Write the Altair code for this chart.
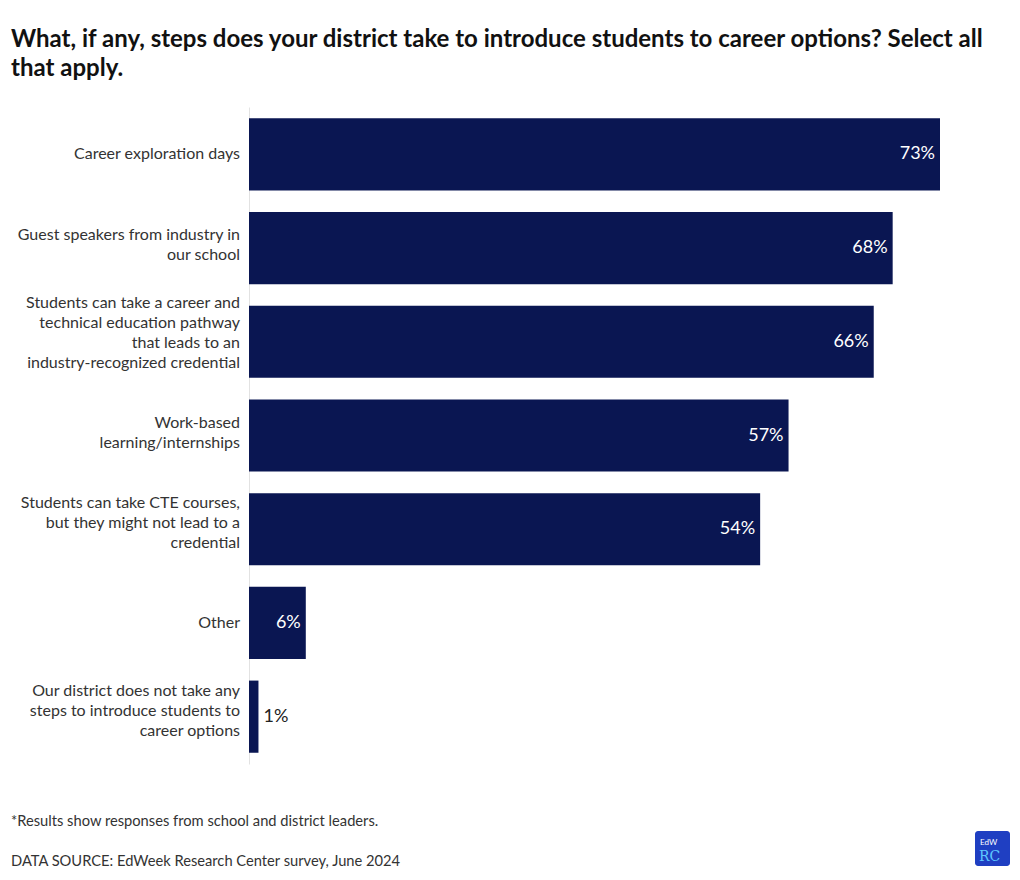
import altair as alt
import pandas as pd

categories = [
    "Career exploration days",
    "Guest speakers from industry in|our school",
    "Students can take a career and|technical education pathway|that leads to an|industry-recognized credential",
    "Work-based|learning/internships",
    "Students can take CTE courses,|but they might not lead to a|credential",
    "Other",
    "Our district does not take any|steps to introduce students to|career options",
]
values = [73, 68, 66, 57, 54, 6, 1]
labels = [f"{v}%" for v in values]

title_lines = [
    "What, if any, steps does your district take to introduce students to career options? Select all",
    "that apply.",
]
note = "*Results show responses from school and district leaders."
source = "DATA SOURCE: EdWeek Research Center survey, June 2024"

FONT = "Lato"
NAVY = "#0a1652"
LINE_H = 20

df = pd.DataFrame({"cat": categories, "val": values, "lab": labels})

W, H = 691, 657

y_enc = alt.Y(
    "cat:N",
    sort=categories,
    title=None,
    scale=alt.Scale(paddingInner=0.23, paddingOuter=0.12),
    axis=alt.Axis(
        labels=False,
        ticks=False,
        domain=True,
        domainColor="#e2e2e2",
        domainWidth=1,
        grid=False,
    ),
)
x_enc = alt.X("val:Q", title=None, axis=None, scale=alt.Scale(domain=[0, 73], nice=False))

base = alt.Chart(df)

bars = base.mark_bar(color=NAVY).encode(x=x_enc, y=y_enc)

label_layers = []
for n in [1, 2, 3, 4]:
    label_layers.append(
        base.transform_calculate(lines="split(datum.cat, '|')")
        .transform_calculate(nlines="length(datum.lines)")
        .transform_filter(f"datum.nlines == {n}")
        .mark_text(
            align="right",
            baseline="middle",
            font=FONT,
            fontSize=16,
            color="#333333",
            lineHeight=LINE_H,
            dy=-(n - 1) * 13,
        )
        .encode(x=alt.value(-9), y=alt.Y("cat:N", sort=categories), text="lines:N")
    )

inside = base.transform_filter("datum.val > 3").mark_text(
    align="right", baseline="middle", dx=-5, font=FONT, fontSize=18, color="white"
).encode(x=x_enc, y=y_enc, text="lab:N")

outside = base.transform_filter("datum.val <= 3").mark_text(
    align="left", baseline="middle", dx=5, font=FONT, fontSize=18, color="#222222"
).encode(x=x_enc, y=y_enc, text="lab:N")

foot_df = pd.DataFrame({"t": [note, source], "yy": [719, 759]})
footer = alt.Chart(foot_df).mark_text(
    align="left", baseline="alphabetic", font=FONT, fontSize=14.7, color="#333333"
).encode(x=alt.value(-238), y=alt.Y("yy:Q", scale=None), text="t:N")

logo_bg = alt.Chart(pd.DataFrame({"a": [1]})).mark_rect(
    color="#1f3fc2", cornerRadius=3
).encode(x=alt.value(726), x2=alt.value(761), y=alt.value(724), y2=alt.value(759))

logo_small = alt.Chart(pd.DataFrame({"t": ["EdW"]})).mark_text(
    align="left", baseline="alphabetic", font=FONT, fontSize=8, color="white"
).encode(x=alt.value(731), y=alt.value(738), text="t:N")

logo_big = alt.Chart(pd.DataFrame({"t": ["RC"]})).mark_text(
    align="left", baseline="alphabetic", font="DejaVu Serif", fontSize=14, color="#5ec8ff"
).encode(x=alt.value(730), y=alt.value(754), text="t:N")

chart = (
    alt.layer(bars, *label_layers, inside, outside, footer, logo_bg, logo_small, logo_big)
    .properties(
        width=W,
        height=H,
        autosize=alt.AutoSizeParams(type="none"),
        padding={"left": 249, "top": 107, "right": 80, "bottom": 116},
        title=alt.TitleParams(
            text=title_lines,
            anchor="start",
            frame="group",
            dx=-238,
            offset=26,
            font=FONT,
            fontSize=24,
            fontWeight="bold",
            color="#111111",
            lineHeight=29,
        ),
    )
    .configure(background="white")
    .configure_view(strokeWidth=0)
)

chart.save("out.html", embed_options={"renderer": "svg", "actions": False})
